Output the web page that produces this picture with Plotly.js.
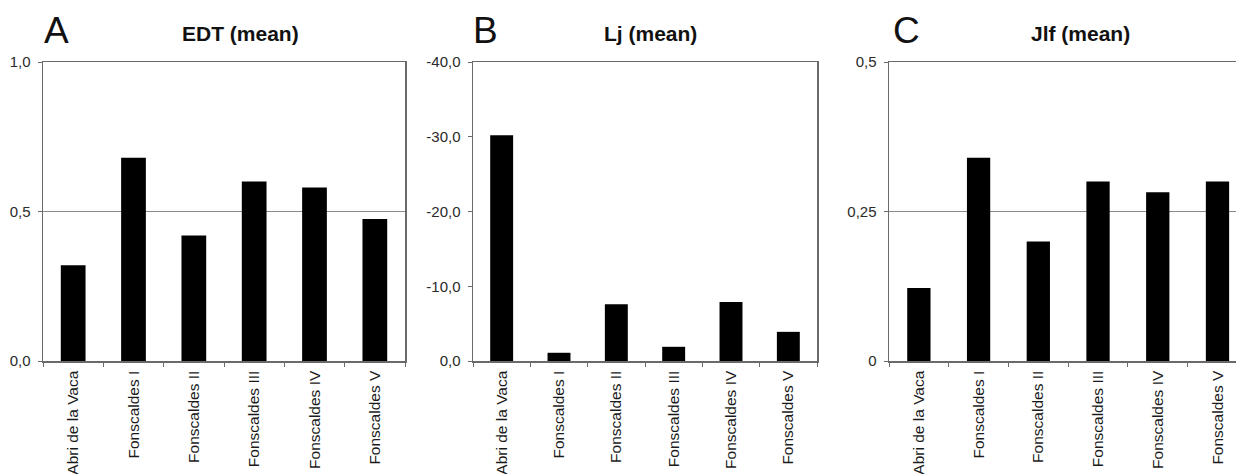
<!DOCTYPE html>
<html>
<head>
<meta charset="utf-8">
<script src="https://cdn.plot.ly/plotly-3.0.1.min.js"></script>
<style>html,body{margin:0;padding:0;background:#fff;overflow:hidden;}#chart{width:1236px;height:474px;}</style>
</head>
<body>
<div id="chart"></div>
<script>
const categories = ["Abri de la Vaca", "Fonscaldes I", "Fonscaldes II", "Fonscaldes III", "Fonscaldes IV", "Fonscaldes V"];
const edtMean = [0.32, 0.68, 0.42, 0.60, 0.58, 0.475];
const ljMean = [-30.2, -1.1, -7.6, -1.9, -7.9, -3.9];
const jlfMean = [0.122, 0.34, 0.20, 0.30, 0.282, 0.30];
const edtTicks = [0, 0.5, 1.0];
const edtTickText = ["0,0", "0,5", "1,0"];
const ljTicks = [0, -10, -20, -30, -40];
const ljTickText = ["0,0", "-10,0", "-20,0", "-30,0", "-40,0"];
const jlfTicks = [0, 0.25, 0.5];
const jlfTickText = ["0", "0,25", "0,5"];
const panelTitles = ["EDT (mean)", "Lj (mean)", "Jlf (mean)"];
const panelLetters = ["A", "B", "C"];

const W = 1236, H = 474;
const px = v => v / W;
const py = v => 1 - v / H;
const FONT = "Liberation Sans, Arial, Helvetica, sans-serif";
const LINE = "#6a6a6a";

const traces = [
  {type: "bar", x: categories, y: edtMean, xaxis: "x", yaxis: "y", marker: {color: "#000"}, width: 0.41, hoverinfo: "x+y"},
  {type: "bar", x: categories, y: ljMean, xaxis: "x2", yaxis: "y2", marker: {color: "#000"}, width: 0.40, hoverinfo: "x+y"},
  {type: "bar", x: categories, y: jlfMean, xaxis: "x3", yaxis: "y3", marker: {color: "#000"}, width: 0.39, hoverinfo: "x+y"}
];

const yDom = [py(361), py(62)];
function xAxis(dom, range) {
  return {
    domain: dom, range: range, type: "category",
    showline: true, linecolor: LINE, linewidth: 1.5, mirror: true,
    ticks: "outside", tickson: "boundaries", ticklen: 4, tickcolor: LINE,
    tickangle: -90, tickfont: {family: FONT, size: 15.5, color: "#1a1a1a"},
    ticklabelstandoff: 2,
    showgrid: false, fixedrange: true
  };
}
function yAxis(anchor, range, tv, tt, grid, mirror) {
  return {
    domain: yDom, anchor: anchor, range: range,
    tickmode: "array", tickvals: tv, ticktext: tt,
    showline: true, linecolor: LINE, linewidth: 1.5, mirror: mirror,
    ticks: "outside", ticklen: 4, tickcolor: LINE,
    ticklabelstandoff: 4,
    tickfont: {family: FONT, size: 15, color: "#2a2a2a"},
    showgrid: grid, gridcolor: "#8a8a8a", gridwidth: 1.2,
    zeroline: false, fixedrange: true
  };
}

const annotations = [];
const letterX = [42, 471, 891];
const titleX = [240, 650, 1080];
for (let i = 0; i < 3; i++) {
  annotations.push({xref: "paper", yref: "paper", x: px(letterX[i]), y: py(31), xanchor: "left", yanchor: "middle",
    text: panelLetters[i], showarrow: false, font: {family: FONT, size: 37, color: "#111"}});
  annotations.push({xref: "paper", yref: "paper", x: px(titleX[i]), y: py(33), xanchor: "center", yanchor: "middle",
    text: "<b>" + panelTitles[i] + "</b>", showarrow: false, font: {family: FONT, size: 21, color: "#111"}});
}

const layout = {
  width: W, height: H,
  margin: {l: 0, r: 0, t: 0, b: 0},
  paper_bgcolor: "#fff", plot_bgcolor: "#fff",
  showlegend: false,
  xaxis: Object.assign(xAxis([px(43), px(405)], [-0.5, 5.5]), {anchor: "y"}),
  xaxis2: Object.assign(xAxis([px(473), px(817)], [-0.5, 5.5]), {anchor: "y2"}),
  xaxis3: Object.assign(xAxis([px(889), 1], [-0.5, 5.31]), {anchor: "y3"}),
  yaxis: yAxis("x", [0, 1], edtTicks, edtTickText, true, true),
  yaxis2: yAxis("x2", [0, -40], ljTicks, ljTickText, false, true),
  yaxis3: yAxis("x3", [0, 0.5], jlfTicks, jlfTickText, true, false),
  annotations: annotations
};

Plotly.newPlot("chart", traces, layout, {displayModeBar: false, staticPlot: true});
</script>
</body>
</html>
